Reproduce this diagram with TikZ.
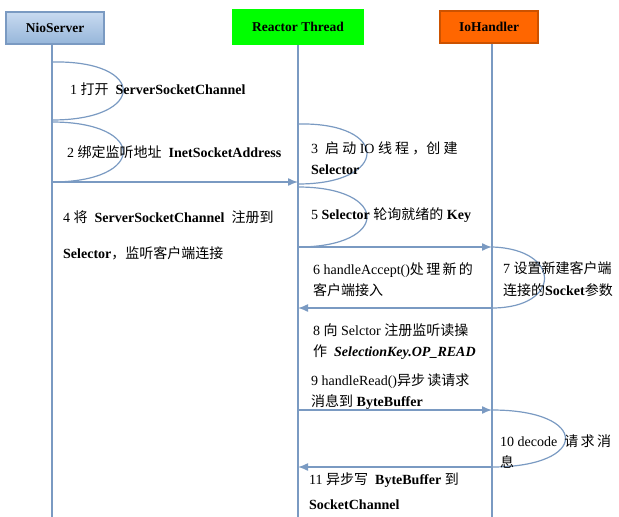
\documentclass[tikz,border=0pt]{standalone}
\usepackage{fontspec}
\setmainfont{Liberation Serif}
\newfontfamily\cjk{Noto Sans CJK SC}
\usetikzlibrary{arrows.meta,positioning}
\definecolor{llc}{RGB}{122,154,194}
\definecolor{nsa}{RGB}{200,218,240}
\definecolor{nsb}{RGB}{150,182,218}
\definecolor{rtc}{RGB}{0,255,0}
\definecolor{ihc}{RGB}{255,102,0}
\newcommand{\zh}[1]{{\cjk #1}}
\begin{document}
\begin{tikzpicture}[x=1pt, y=-1pt, font=\fontsize{14}{16}\selectfont,
  head/.style={rectangle, draw, line width=1.2pt, minimum height=32pt, font=\fontsize{13.5}{15}\selectfont\bfseries},
  life/.style={draw=llc, line width=1.2pt},
  msg/.style={draw=llc, line width=1.4pt, -{Latex[length=10pt,width=8pt]}},
  loop/.style={draw=llc, line width=1.2pt},
  lbl/.style={anchor=west, inner sep=0pt, align=left}]

  \useasboundingbox (0,0) rectangle (619,517);

  \node[head, draw=llc, top color=nsa, bottom color=nsb, minimum width=98pt] (nio) at (55,28) {NioServer};
  \node[head, draw=rtc, fill=rtc, minimum width=130pt, minimum height=34pt] (rt) at (298,27) {Reactor Thread};
  \node[head, draw=ihc!80!black, fill=ihc, minimum width=98pt] (ih) at (489,27) {IoHandler};

  % lifelines
  \coordinate (nioend) at (52,517);
  \coordinate (rtend) at (298,517);
  \coordinate (ihend) at (492,517);
  \draw[life] (nio.south -| nioend) -- (nioend);
  \draw[life] (rt.south -| rtend) -- (rtend);
  \draw[life] (ih.south -| ihend) -- (ihend);

  % self loops
  \draw[loop] (52,62) .. controls (147,60) and (147,120) .. (52,120);
  \draw[loop] (52,122) .. controls (147,122) and (147,182) .. (52,182);
  \draw[loop] (298,124) .. controls (390,122) and (390,184) .. (298,184);
  \draw[loop] (298,187) .. controls (390,187) and (390,247) .. (298,247);
  \draw[loop] (492,247) .. controls (562,249) and (562,308) .. (492,308);
  \draw[loop] (492,410) .. controls (590,410) and (590,467) .. (492,467);

  % messages
  \coordinate (m1a) at (52,182);  \coordinate (m1b) at (298,182);
  \coordinate (m2a) at (298,247); \coordinate (m2b) at (492,247);
  \coordinate (m3a) at (492,308); \coordinate (m3b) at (298,308);
  \coordinate (m4a) at (298,410); \coordinate (m4b) at (492,410);
  \coordinate (m5a) at (492,467); \coordinate (m5b) at (298,467);
  \draw[msg] (m1a) -- (m1b);
  \draw[msg] (m2a) -- (m2b);
  \draw[msg] (m3a) -- (m3b);
  \draw[msg] (m4a) -- (m4b);
  \draw[msg] (m5a) -- (m5b);

  % labels
  \node[lbl] (t1) at (70,89) {1 \zh{打开}\ \ \textbf{ServerSocketChannel}};
  \node[lbl] (t2) at (67,152) {2 \zh{绑定监听地址}\ \ \textbf{InetSocketAddress}};
  \node[lbl] (t3) at (311,148) {3\ \ \zh{启\ 动}\ IO \zh{线\ 程\ ，创\ 建}};
  \node[lbl] (t3b) at (311,170) {\textbf{Selector}};
  \node[lbl] (t4) at (63,217) {4 \zh{将}\ \ \textbf{ServerSocketChannel}\ \ \zh{注册到}};
  \node[lbl] (t4b) at (63,253) {\textbf{Selector}\zh{，监听客户端连接}};
  \node[lbl] (t5) at (311,215) {5 \textbf{Selector} \zh{轮询就绪的} \textbf{Key}};
  \node[lbl] (t6) at (313,270) {6 handleAccept()\zh{处\,理\,新\,的}};
  \node[lbl] (t6b) at (313,290) {\zh{客户端接入}};
  \node[lbl] (t7) at (503,268) {7 \zh{设置新建客户端}};
  \node[lbl] (t7b) at (503,290) {\zh{连接的}\textbf{Socket}\zh{参数}};
  \node[lbl] (t8) at (313,330) {8 \zh{向} Selctor \zh{注册监听读操}};
  \node[lbl] (t8b) at (313,352) {\zh{作}\ \ \textbf{\textit{SelectionKey.OP\_READ}}};
  \node[lbl] (t9) at (311,381) {9 handleRead()\zh{异步\,读请求}};
  \node[lbl] (t9b) at (311,402) {\zh{消息到} \textbf{ByteBuffer}};
  \node[lbl] (t10) at (500,441) {10 decode\ \ \zh{请\,求\,消}};
  \node[lbl] (t10b) at (500,462) {\zh{息}};
  \node[lbl] (t11) at (309,480) {11 \zh{异步写}\ \ \textbf{ByteBuffer} \zh{到}};
  \node[lbl] (t11b) at (309,505) {\textbf{SocketChannel}};
\end{tikzpicture}
\end{document}
